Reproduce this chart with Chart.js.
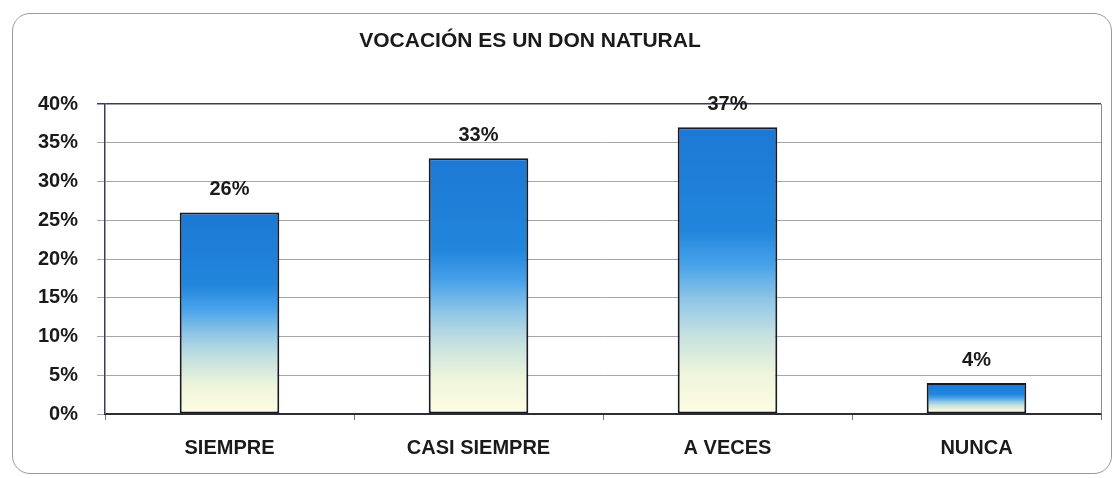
<!DOCTYPE html>
<html lang="es">
<head>
    <meta charset="UTF-8">
    <title>Vocación es un don natural</title>
    <style>
        body {
            margin: 0;
            padding: 0;
            background: #ffffff;
        }

        .marco {
            position: relative;
            width: 1116px;
            height: 478px;
        }

        /* borde redondeado alrededor del gráfico */
        .borde {
            position: absolute;
            left: 12px;
            top: 13px;
            width: 1100px;
            height: 461px;
            box-sizing: border-box;
            border: 1px solid #9a9a9a;
            border-radius: 18px;
        }

        .lienzo {
            position: absolute;
            left: 0;
            top: 0;
            width: 1116px;
            height: 478px;
        }
    </style>
    <script src="https://cdn.jsdelivr.net/npm/chart.js"></script>
</head>
<body>
    <div class="marco">
        <div class="borde"></div>
        <div class="lienzo">
            <canvas id="grafico"></canvas>
        </div>
    </div>
    <script>
        // Datos del gráfico
        const categorias = ['SIEMPRE', 'CASI SIEMPRE', 'A VECES', 'NUNCA'];
        const valores = [26, 33, 37, 4];
        const marcasY = [0, 5, 10, 15, 20, 25, 30, 35, 40];
        const titulo = 'VOCACIÓN ES UN DON NATURAL';

        const fuente = "'Liberation Sans', Arial, sans-serif";

        // Degradado azul -> amarillo claro para cada barra
        function degradado(ctx) {
            const chart = ctx.chart;
            const { chartArea, scales } = chart;
            if (!chartArea || ctx.type !== 'data') return '#2a86dc';
            const arriba = scales.y.getPixelForValue(ctx.raw);
            const base = scales.y.getPixelForValue(0);
            const g = chart.ctx.createLinearGradient(0, arriba, 0, base);
            g.addColorStop(0, '#1c78d4');
            g.addColorStop(0.36, '#2286dc');
            g.addColorStop(0.48, '#48a2ea');
            g.addColorStop(0.6, '#8ec6e6');
            g.addColorStop(0.72, '#c4e0e0');
            g.addColorStop(0.86, '#eef5da');
            g.addColorStop(1, '#fffde4');
            return g;
        }

        // Título dibujado a mano (centrado un poco a la izquierda)
        const pluginTitulo = {
            id: 'titulo',
            afterDraw(chart, args, opts) {
                const c = chart.ctx;
                c.save();
                c.font = 'bold 21px ' + fuente;
                c.fillStyle = '#1a1a1a';
                c.textAlign = 'center';
                c.textBaseline = 'middle';
                c.fillText(opts.text, opts.x, opts.y);
                c.restore();
            }
        };

        // Etiquetas de valor encima de las barras
        const pluginEtiquetas = {
            id: 'etiquetas',
            afterDatasetsDraw(chart) {
                const c = chart.ctx;
                const meta = chart.getDatasetMeta(0);
                c.save();
                c.font = 'bold 20px ' + fuente;
                c.fillStyle = '#1a1a1a';
                c.textAlign = 'center';
                c.textBaseline = 'middle';
                meta.data.forEach((barra, i) => {
                    c.fillText(valores[i] + '%', barra.x, barra.y - 23);
                });
                c.restore();
            }
        };

        // Borde derecho del área de trazado
        const pluginMarco = {
            id: 'marcoArea',
            beforeDatasetsDraw(chart) {
                const { ctx, chartArea } = chart;
                ctx.save();
                ctx.strokeStyle = '#8a8a8a';
                ctx.lineWidth = 1;
                ctx.beginPath();
                ctx.moveTo(chartArea.right + 0.5, chartArea.top);
                ctx.lineTo(chartArea.right + 0.5, chartArea.bottom);
                ctx.stroke();
                ctx.restore();
            }
        };

        const ctx = document.getElementById('grafico').getContext('2d');
        const grafico = new Chart(ctx, {
            type: 'bar',
            data: {
                labels: categorias,
                datasets: [{
                    data: valores,
                    backgroundColor: degradado,
                    borderColor: '#1a1a24',
                    borderWidth: 2,
                    borderSkipped: false,
                    barPercentage: 0.4,
                    categoryPercentage: 1.0
                }]
            },
            options: {
                responsive: true,
                maintainAspectRatio: false,
                animation: false,
                layout: {
                    padding: { top: 104, right: 15, bottom: 0, left: 0 }
                },
                plugins: {
                    legend: { display: false },
                    tooltip: { enabled: false },
                    titulo: { text: titulo, x: 530, y: 41 }
                },
                scales: {
                    x: {
                        grid: {
                            offset: true,
                            drawOnChartArea: false,
                            tickLength: 6,
                            color: '#777777'
                        },
                        border: { color: '#2e2e36', width: 2 },
                        ticks: {
                            color: '#1a1a1a',
                            padding: 16,
                            font: { family: fuente, size: 20, weight: 'bold' }
                        },
                        afterFit(scale) { scale.height = 64; }
                    },
                    y: {
                        min: marcasY[0],
                        max: marcasY[marcasY.length - 1],
                        afterBuildTicks(scale) {
                            scale.ticks = marcasY.map(v => ({ value: v }));
                        },
                        grid: {
                            tickLength: 8,
                            color: (c) => c.tick && c.tick.value === 40 ? '#3c3c5a' : '#a6a6a6',
                            lineWidth: (c) => c.tick && c.tick.value === 40 ? 1.5 : 1
                        },
                        border: { color: '#3c3c5a', width: 1.5 },
                        ticks: {
                            color: '#1a1a1a',
                            padding: 19,
                            font: { family: fuente, size: 20, weight: 'bold' },
                            callback: (v) => v + '%'
                        },
                        afterFit(scale) { scale.width = 105; }
                    }
                }
            },
            plugins: [pluginTitulo, pluginEtiquetas, pluginMarco]
        });
    </script>
</body>
</html>
